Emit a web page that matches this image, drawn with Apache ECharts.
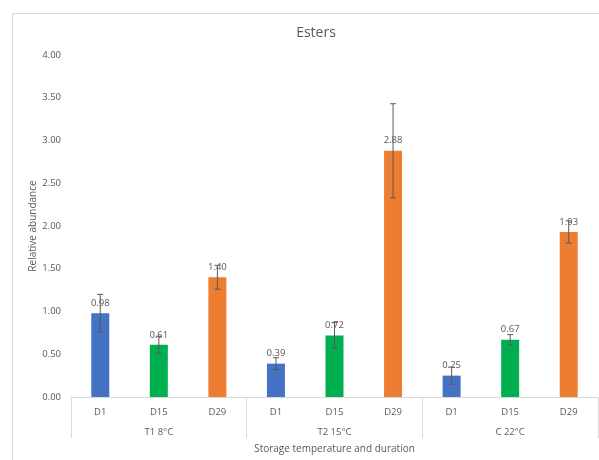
<!DOCTYPE html>
<html>
<head>
<meta charset="utf-8">
<script src="https://cdn.jsdelivr.net/npm/echarts@6/dist/echarts.min.js"></script>
<style>html,body{margin:0;padding:0;background:#fff;}#c{width:599px;height:460px;}</style>
</head>
<body>
<div id="c"></div>
<script>
var categories = ['D1', 'D15', 'D29', 'D1', 'D15', 'D29', 'D1', 'D15', 'D29'];
var groups = ['T1 8°C', 'T2 15°C', 'C 22°C'];
var values = [0.98, 0.61, 1.40, 0.39, 0.72, 2.88, 0.25, 0.67, 1.93];
var errors = [0.22, 0.10, 0.14, 0.07, 0.15, 0.55, 0.10, 0.06, 0.13];
var dayColors = {D1: '#4472C4', D15: '#00B050', D29: '#ED7D31'};
var yTicks = [0, 0.5, 1, 1.5, 2, 2.5, 3, 3.5, 4];

var FONT = 'Open Sans';
var TXT = '#595959';
var chart = echarts.init(document.getElementById('c'), null, {renderer: 'canvas'});

var barData = values.map(function (v, i) {
  return {value: v, itemStyle: {color: dayColors[categories[i]]}};
});
var errData = values.map(function (v, i) {
  return [i, v - errors[i], v + errors[i]];
});

chart.setOption({
  backgroundColor: '#fff',
  animation: false,
  graphic: [{
    type: 'rect', left: 10, top: 11, shape: {width: 620, height: 480},
    style: {fill: 'none', stroke: '#d9d9d9', lineWidth: 1}, z: -1
  }],
  title: {
    text: 'Esters', left: 311, top: 21, textAlign: 'center',
    textStyle: {fontFamily: FONT, fontSize: 14, fontWeight: 'normal', color: TXT}
  },
  grid: {left: 71, right: 1, top: 55, bottom: 63},
  xAxis: [{
    type: 'category', data: categories, position: 'bottom',
    axisLine: {show: true, lineStyle: {color: '#d9d9d9', width: 1}},
    axisTick: {show: false},
    axisLabel: {fontFamily: FONT, fontSize: 9.5, color: TXT, margin: 10, interval: 0},
    splitLine: {show: false}
  }, {
    type: 'category', data: groups, position: 'bottom', offset: 0,
    axisLine: {show: false},
    axisTick: {show: true, length: 41, lineStyle: {color: '#d9d9d9', width: 1}},
    axisLabel: {fontFamily: FONT, fontSize: 9.5, color: TXT, margin: 30, interval: 0},
    name: 'Storage temperature and duration', nameLocation: 'middle', nameGap: 47,
    nameMoveOverlap: false,
    nameTextStyle: {fontFamily: FONT, fontSize: 10, color: TXT},
    splitLine: {show: false}
  }],
  yAxis: {
    type: 'value', min: 0, max: 4, interval: 0.5,
    axisLine: {show: false}, axisTick: {show: false}, splitLine: {show: false},
    axisLabel: {fontFamily: FONT, fontSize: 9.5, color: TXT, margin: 10,
      formatter: function (v) { return v.toFixed(2); }},
    name: 'Relative abundance', nameLocation: 'middle', nameGap: 33,
    nameMoveOverlap: false,
    nameTextStyle: {fontFamily: FONT, fontSize: 10, color: TXT}
  },
  series: [{
    type: 'bar', xAxisIndex: 0, data: barData, barWidth: 18,
    label: {show: true, position: 'top', distance: 5, fontFamily: FONT, fontSize: 9.5, color: TXT,
      formatter: function (p) { return p.value.toFixed(2); }},
    z: 2
  }, {
    type: 'custom', xAxisIndex: 0, data: errData, z: 3,
    renderItem: function (params, api) {
      var x = api.value(0);
      var lo = api.coord([x, api.value(1)]);
      var hi = api.coord([x, api.value(2)]);
      var w = 3;
      var st = {stroke: '#595959', lineWidth: 1};
      return {type: 'group', children: [
        {type: 'line', shape: {x1: lo[0], y1: lo[1], x2: hi[0], y2: hi[1]}, style: st},
        {type: 'line', shape: {x1: lo[0] - w, y1: lo[1], x2: lo[0] + w, y2: lo[1]}, style: st},
        {type: 'line', shape: {x1: hi[0] - w, y1: hi[1], x2: hi[0] + w, y2: hi[1]}, style: st}
      ]};
    },
    encode: {x: 0, y: [1, 2]}
  }]
});
</script>
</body>
</html>
